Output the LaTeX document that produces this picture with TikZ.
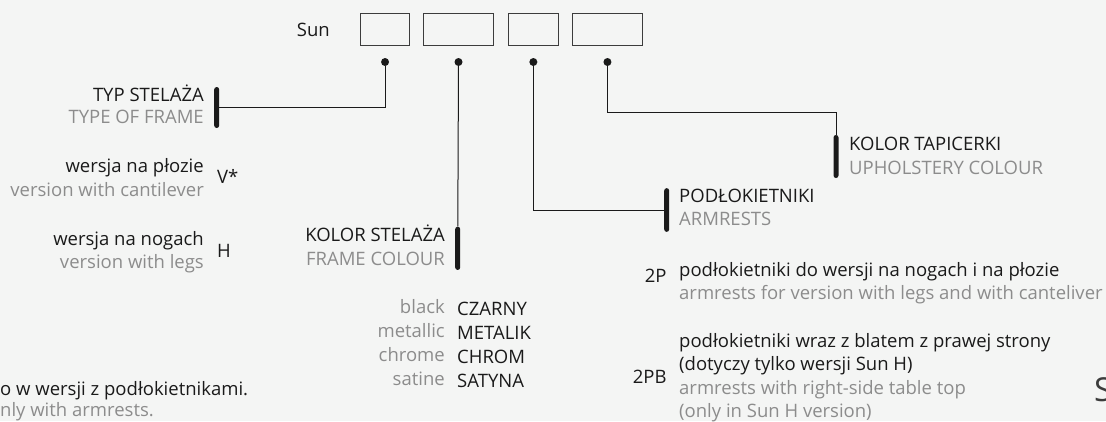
\documentclass[tikz,border=0pt]{standalone}
\usepackage{fontspec}
\setmainfont{Open Sans}
\usetikzlibrary{positioning}
\definecolor{tlo}{HTML}{F4F5F4}
\definecolor{ink}{HTML}{1A1A1A}
\definecolor{szary}{HTML}{8C8C8C}
\tikzset{
  pole/.style={draw=ink!85, line width=0.8pt, minimum height=31.4pt, inner sep=0pt},
  pin/.style={circle, fill=ink, inner sep=0pt, minimum size=8pt},
  lead/.style={draw=ink, line width=1pt},
  belka/.style={fill=ink, inner sep=0pt, minimum width=5pt, rounded corners=2.5pt},
  pl/.style={font=\fontsize{18.5}{21}\selectfont, text=ink, inner sep=0pt},
  en/.style={font=\fontsize{18.5}{21}\selectfont, text=szary, inner sep=0pt},
}
\begin{document}
\begin{tikzpicture}[x=1pt, y=-1pt]
\fill[tlo] (0,0) rectangle (1106,421);
\useasboundingbox (0,0) rectangle (1106,421);
% kod produktu
\node[pole, minimum width=49.3pt, anchor=north west] (k1) at (360,13.3) {};
\node[pole, minimum width=70pt, right=13pt of k1] (k2) {};
\node[pole, minimum width=49.3pt, right=14.4pt of k2] (k3) {};
\node[pole, minimum width=70.7pt, right=13.3pt of k3] (k4) {};
\node[pl, left=30pt of k1] (sun) {Sun};
\foreach \i in {1,...,4}
  \node[pin, below=12.3pt of k\i] (d\i) {};
% belki
\node[belka, minimum height=41pt] (b1) at (216.7,107.5) {};
\node[belka, minimum height=43.3pt] (b2) at (457.7,248.3) {};
\node[belka, minimum height=43.7pt] (b3) at (666.7,210) {};
\node[belka, minimum height=43pt] (b4) at (836,156.5) {};
\draw[lead] (d1) |- (b1);
\draw[lead] (d2) -- (b2);
\draw[lead] (d3) |- (b3);
\draw[lead] (d4) |- ([yshift=22pt]b4.north) -- (b4);
% typ stelaza
\node[pl, anchor=base east] (typ) at (204,101) {TYP STELAŻA};
\node[en, anchor=base east] (typen) at (204,123) {TYPE OF FRAME};
\node[pl, anchor=base east] (ploza) at (204,172) {wersja na płozie};
\node[en, anchor=base east] (plozaen) at (204,196) {version with cantilever};
\node[pl, anchor=base west] (kodv) at (217,183) {V*};
\node[pl, anchor=base east] (nogi) at (204,245) {wersja na nogach};
\node[en, anchor=base east] (nogien) at (204,268) {version with legs};
\node[pl, anchor=base west] (kodh) at (217,257) {H};
% kolor stelaza
\node[pl, anchor=base east] (kolst) at (445,241) {KOLOR STELAŻA};
\node[en, anchor=base east] (kolsten) at (445,265) {FRAME COLOUR};
\foreach \en/\pl [count=\n] in {black/CZARNY, metallic/METALIK, chrome/CHROM, satine/SATYNA}{
  \node[en, anchor=base east] (ang\n) at (445,{313+24*(\n-1)}) {\en};
  \node[pl, anchor=base west] (pol\n) at (457,{315.5+24*(\n-1)}) {\pl};
}
% podlokietniki
\node[pl, anchor=base west] (podl) at (679,202) {PODŁOKIETNIKI};
\node[en, anchor=base west] (podlen) at (679,225) {ARMRESTS};
\node[pl, anchor=base east] (kod2p) at (666.7,282) {2P};
\node[pl, anchor=base west] (opis2p) at (679,276) {podłokietniki do wersji na nogach i na płozie};
\node[en, anchor=base west] (opis2pen) at (679,299) {armrests for version with legs and with canteliver};
\node[pl, anchor=base east] (kod2pb) at (666.7,383) {2PB};
\node[pl, anchor=base west] (opis2pb) at (679,347) {podłokietniki wraz z blatem z prawej strony};
\node[pl, anchor=base west] (opis2pbb) at (679,370) {(dotyczy tylko wersji Sun H)};
\node[en, anchor=base west] (opis2pben) at (679,394) {armrests with right-side table top};
\node[en, anchor=base west] (opis2pbenb) at (679,417) {(only in Sun H version)};
% kolor tapicerki
\node[pl, anchor=base west] (koltap) at (849,150) {KOLOR TAPICERKI};
\node[en, anchor=base west] (koltapen) at (849,174) {UPHOLSTERY COLOUR};
% uwaga
\node[pl, anchor=base west] (uwaga) at (0,395) {o w wersji z podłokietnikami.};
\node[en, anchor=base west] (uwagaen) at (0,416) {nly with armrests.};
\node[font=\fontsize{33}{36}\selectfont, text=ink!85, inner sep=0pt, anchor=base west] (s) at (1094,401) {S};
\end{tikzpicture}
\end{document}
